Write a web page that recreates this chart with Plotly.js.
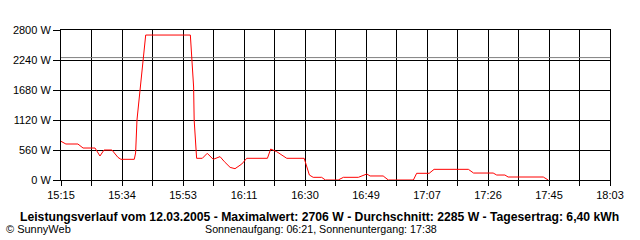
<!DOCTYPE html>
<html>
<head>
<meta charset="utf-8">
<script src="https://cdn.plot.ly/plotly-3.0.1.min.js"></script>
<style>html,body{margin:0;padding:0;background:#fff;}#chart{width:640px;height:240px;}</style>
</head>
<body>
<div id="chart"></div>
<script>
const day = '2005-03-12';
const times = ['15:15:40','15:17:10','15:20:50','15:22:25','15:26:05','15:27:35','15:28:50','15:31:15','15:33:05','15:34:00',
 '15:38:05','15:38:30','15:38:55','15:39:50','15:40:40','15:41:05','15:41:35','15:55:15','15:55:25','15:55:45',
 '15:56:15','15:56:25','15:57:10','15:58:55','16:00:25','16:02:15','16:04:20','16:05:40','16:07:25','16:08:55',
 '16:11:00','16:12:30','16:18:50','16:19:50','16:21:40','16:24:45','16:30:05','16:31:40','16:32:50','16:35:25',
 '16:36:35','16:40:30','16:42:05','16:46:40','16:47:40','16:49:15','16:50:15','16:54:15','16:55:50','17:03:30',
 '17:04:30','17:08:20','17:09:50','17:20:20','17:21:55','17:27:55','17:29:00','17:31:30','17:32:30','17:43:15',
 '17:44:45'];
const watts = [722,672,672,597,597,448,560,560,423,386,
 386,504,1120,1680,2053,2427,2706,2706,2520,2128,
 1736,1120,405,405,498,386,436,342,236,211,
 299,405,405,578,529,405,405,93,50,50,
 0,0,50,50,75,112,75,75,0,0,
 125,125,199,199,130,130,93,93,56,56,
 0];
const avgWatts = 2285;
const xTickLabels = ['15:15','15:34','15:53','16:11','16:30','16:49','17:07','17:26','17:45','18:03'];
const yTickValues = [0,560,1120,1680,2240,2800];
const axisStart = '15:15:40';
const axisEnd = '18:03:40';
const titleText = 'Leistungsverlauf vom 12.03.2005 - Maximalwert: 2706 W - Durchschnitt: 2285 W - Tagesertrag: 6,40 kWh';
const copyrightText = '© SunnyWeb';
const sunText = 'Sonnenaufgang: 06:21, Sonnenuntergang: 17:38';

function toSec(t){const p=t.split(':').map(Number);return p[0]*3600+p[1]*60+(p[2]||0);}
function pad(n){return (n<10?'0':'')+n;}
function fromSec(s){return day+' '+pad(Math.floor(s/3600))+':'+pad(Math.floor(s%3600/60))+':'+pad(s%60);}
const x = times.map(t=>day+' '+t);
const s0 = toSec(axisStart), s1 = toSec(axisEnd);
const nInt = (xTickLabels.length-1)*2;
const step = (s1-s0)/nInt;
const tickvals = [], ticktext = [];
for(let k=0;k<=nInt;k++){tickvals.push(fromSec(Math.round(s0+k*step)));ticktext.push(k%2===0?xTickLabels[k/2]:'');}

const font = {family:'Liberation Sans, Arial, sans-serif', size:11, color:'#000'};
const data = [
 {x:[fromSec(s0),fromSec(s1)], y:[avgWatts,avgWatts], mode:'lines', line:{color:'#808080',width:1}, hoverinfo:'skip'},
 {x:x, y:watts, mode:'lines', line:{color:'#ff0000',width:1}}
];
const layout = {
 width:640, height:240, showlegend:false,
 margin:{l:61,r:30,t:30,b:60},
 paper_bgcolor:'#fff', plot_bgcolor:'#fff', font:font,
 xaxis:{type:'date', range:[fromSec(s0),fromSec(s1)], tickmode:'array', tickvals:tickvals, ticktext:ticktext,
   showgrid:true, gridcolor:'#000', gridwidth:1, showline:true, linecolor:'#000', linewidth:1, mirror:true,
   ticks:'outside', ticklen:5, tickcolor:'#000', tickwidth:1, zeroline:false, layer:'above traces', tickfont:font},
 yaxis:{range:[0,2800], tickmode:'array', tickvals:yTickValues, ticktext:yTickValues.map(v=>v+' W'),
   showgrid:true, gridcolor:'#000', gridwidth:1, showline:true, linecolor:'#000', linewidth:1, mirror:true,
   ticks:'outside', ticklen:7, tickcolor:'#000', tickwidth:1, zeroline:false, layer:'above traces', tickfont:font},
 annotations:[
  {text:'<b>'+titleText+'</b>', xref:'paper', yref:'paper', x:(319.5-61)/549, y:(180-216.5)/150, xanchor:'center', yanchor:'middle', showarrow:false, font:{family:font.family,size:12.2,color:'#000'}},
  {text:copyrightText, xref:'paper', yref:'paper', x:(4-61)/549, y:(180-228.5)/150, xanchor:'left', yanchor:'middle', showarrow:false, font:font},
  {text:sunText, xref:'paper', yref:'paper', x:(320.5-61)/549, y:(180-228.5)/150, xanchor:'center', yanchor:'middle', showarrow:false, font:{family:font.family,size:10.7,color:'#000'}}
 ]
};
Plotly.newPlot('chart', data, layout, {staticPlot:true, displayModeBar:false});
</script>
</body>
</html>
